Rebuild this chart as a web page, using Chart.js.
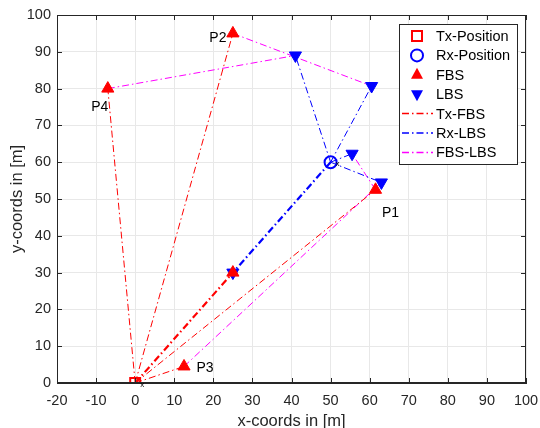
<!DOCTYPE html>
<html>
<head>
<meta charset="utf-8">
<script src="https://cdn.jsdelivr.net/npm/chart.js@4.4.1/dist/chart.umd.min.js"></script>
<style>
html, body { margin: 0; padding: 0; background: #fff; }
#wrap { width: 540px; height: 428px; }
</style>
</head>
<body>
<div id="wrap"><canvas id="chartCanvas"></canvas></div>
<script>
// positions in metres
const txPos = [0, 0];
const rxPos = [50, 60];
const fbsX = [61.5, 25, 12.5, -7, 25];
const fbsY = [52.5, 95, 4.5, 80, 30];
const lbsX = [55.5, 60.5, 63, 41, 25];
const lbsY = [62.3, 80.7, 54.5, 89, 30];
const fbsNames = ["P1", "P2", "P3", "P4", ""];
const legendNames = ["Tx-Position", "Rx-Position", "FBS", "LBS", "Tx-FBS", "Rx-LBS", "FBS-LBS"];

const FONT = '"Liberation Sans", Arial, sans-serif';
const TXT = '#262626';
const dashDot = [7, 3, 1.5, 3];

let datasets = [];

datasets.push({
    label: "FBS",
    data: fbsX.map((x, i) => ({x: x, y: fbsY[i]})),
    pointStyle: 'triangle', pointRadius: 7, pointHoverRadius: 7,
    backgroundColor: '#ff0000', borderColor: '#ff0000', borderWidth: 1
});
datasets.push({
    label: "LBS",
    data: lbsX.map((x, i) => ({x: x, y: lbsY[i]})),
    pointStyle: 'triangle', rotation: 180, pointRadius: 7, pointHoverRadius: 7,
    backgroundColor: '#0000ff', borderColor: '#0000ff', borderWidth: 1
});
datasets.push({
    label: "Tx-Position",
    data: [{x: txPos[0], y: txPos[1]}],
    pointStyle: 'rect', pointRadius: 7, pointHoverRadius: 7,
    backgroundColor: 'rgba(0,0,0,0)', borderColor: '#ff0000', borderWidth: 2
});
datasets.push({
    label: "Rx-Position",
    data: [{x: rxPos[0], y: rxPos[1]}],
    pointStyle: 'circle', pointRadius: 6, pointHoverRadius: 6,
    backgroundColor: 'rgba(0,0,0,0)', borderColor: '#0000ff', borderWidth: 2
});

function segment(name, a, b, color, width) {
    datasets.push({
        label: name,
        data: [{x: a[0], y: a[1]}, {x: b[0], y: b[1]}],
        showLine: true, pointRadius: 0, pointHoverRadius: 0,
        borderColor: color, borderWidth: width, borderDash: dashDot,
        backgroundColor: color
    });
}

const losIndex = fbsX.length - 1;
fbsX.forEach((x, i) => {
    segment("Tx-FBS", txPos, [x, fbsY[i]], '#ff0000', i === losIndex ? 2.2 : 1);
});
lbsX.forEach((x, i) => {
    segment("Rx-LBS", rxPos, [x, lbsY[i]], '#0000ff', i === losIndex ? 2.2 : 1);
});
fbsX.forEach((x, i) => {
    segment("FBS-LBS", [x, fbsY[i]], [lbsX[i], lbsY[i]], '#ff00ff', 1);
});

const extras = {
    id: 'extras',
    afterDatasetsDraw(chart) {
        const ctx = chart.ctx;
        const xs = chart.scales.x, ys = chart.scales.y;
        const a = chart.chartArea;
        ctx.save();

        // box + inner ticks
        ctx.strokeStyle = TXT;
        ctx.lineWidth = 1;
        ctx.strokeRect(a.left + 0.5, a.top + 0.5, a.right - a.left - 1, a.bottom - a.top - 1);
        ctx.beginPath();
        xs.ticks.forEach(t => {
            const px = Math.round(xs.getPixelForValue(t.value)) + 0.5;
            ctx.moveTo(px, a.bottom); ctx.lineTo(px, a.bottom - 5);
            ctx.moveTo(px, a.top); ctx.lineTo(px, a.top + 5);
        });
        ys.ticks.forEach(t => {
            const py = Math.round(ys.getPixelForValue(t.value)) + 0.5;
            ctx.moveTo(a.left, py); ctx.lineTo(a.left + 5, py);
            ctx.moveTo(a.right, py); ctx.lineTo(a.right - 5, py);
        });
        ctx.stroke();

        // point names
        const offs = [[15, 23], [-15, 5], [21, 2], [-8, 19]];
        ctx.fillStyle = '#000';
        ctx.font = '14px ' + FONT;
        ctx.textAlign = 'center';
        ctx.textBaseline = 'middle';
        fbsNames.forEach((n, i) => {
            if (!n) return;
            ctx.fillText(n, xs.getPixelForValue(fbsX[i]) + offs[i][0], ys.getPixelForValue(fbsY[i]) + offs[i][1]);
        });

        // tiny x marks next to Tx and Rx
        ctx.font = '8px ' + FONT;
        ctx.fillText('x', xs.getPixelForValue(txPos[0]) + 7, ys.getPixelForValue(txPos[1]) + 2);
        ctx.fillText('x', xs.getPixelForValue(rxPos[0]) + 7, ys.getPixelForValue(rxPos[1]) + 2);

        // legend
        const L = 399, T = 24, W = 118, H = 140;
        ctx.fillStyle = '#fff';
        ctx.fillRect(L, T, W, H);
        ctx.strokeStyle = TXT;
        ctx.strokeRect(L + 0.5, T + 0.5, W, H);
        ctx.font = '14.5px ' + FONT;
        ctx.textAlign = 'left';
        legendNames.forEach((n, i) => {
            const cy = T + 12 + i * 19.4;
            const mx = L + 18;
            ctx.setLineDash([]);
            if (i === 0) {
                ctx.strokeStyle = '#ff0000'; ctx.lineWidth = 2;
                ctx.strokeRect(mx - 5, cy - 5, 10, 10);
            } else if (i === 1) {
                ctx.strokeStyle = '#0000ff'; ctx.lineWidth = 2;
                ctx.beginPath(); ctx.arc(mx, cy, 6, 0, Math.PI * 2); ctx.stroke();
            } else if (i === 2) {
                ctx.fillStyle = '#ff0000';
                ctx.beginPath(); ctx.moveTo(mx, cy - 7); ctx.lineTo(mx + 6, cy + 4); ctx.lineTo(mx - 6, cy + 4); ctx.closePath(); ctx.fill();
            } else if (i === 3) {
                ctx.fillStyle = '#0000ff';
                ctx.beginPath(); ctx.moveTo(mx, cy + 7); ctx.lineTo(mx + 6, cy - 4); ctx.lineTo(mx - 6, cy - 4); ctx.closePath(); ctx.fill();
            } else {
                ctx.strokeStyle = ['#ff0000', '#0000ff', '#ff00ff'][i - 4];
                ctx.lineWidth = 1.5;
                ctx.setLineDash(dashDot);
                ctx.beginPath(); ctx.moveTo(L + 3, cy); ctx.lineTo(L + 34, cy); ctx.stroke();
                ctx.setLineDash([]);
            }
            ctx.fillStyle = '#000';
            ctx.fillText(n, L + 37, cy + 1);
        });
        ctx.restore();
    }
};

let chart = document.querySelector("#chartCanvas");

let graph = new Chart(chart, {
    type: "scatter",
    data: { datasets: datasets },
    plugins: [extras],
    options: {
        responsive: true,
        maintainAspectRatio: false,
        animation: false,
        layout: { padding: { left: 0, right: 14, top: 15, bottom: 0 } },
        plugins: {
            legend: { display: false },
            tooltip: { enabled: false }
        },
        scales: {
            x: {
                type: 'linear', min: -20, max: 100,
                afterFit: (s) => { s.height = 45; s.paddingLeft = 0; s.paddingRight = 0; },
                ticks: { stepSize: 10, color: TXT, padding: 9, maxRotation: 0, font: { family: FONT, size: 14.5 } },
                grid: { color: '#e8e8e8', drawTicks: false },
                border: { color: TXT },
                title: { display: true, text: 'x-coords in [m]', color: TXT, padding: { top: 0, bottom: -3 }, font: { family: FONT, size: 16.5 } }
            },
            y: {
                type: 'linear', min: 0, max: 100,
                afterFit: (s) => { s.width = 57; s.paddingTop = 0; s.paddingBottom = 0; },
                ticks: { stepSize: 10, color: TXT, padding: 6, font: { family: FONT, size: 14.5 } },
                grid: { color: '#e8e8e8', drawTicks: false },
                border: { color: TXT },
                title: { display: true, text: 'y-coords in [m]', color: TXT, padding: { top: 8, bottom: 0 }, font: { family: FONT, size: 16.5 } }
            }
        }
    }
});
</script>
</body>
</html>
